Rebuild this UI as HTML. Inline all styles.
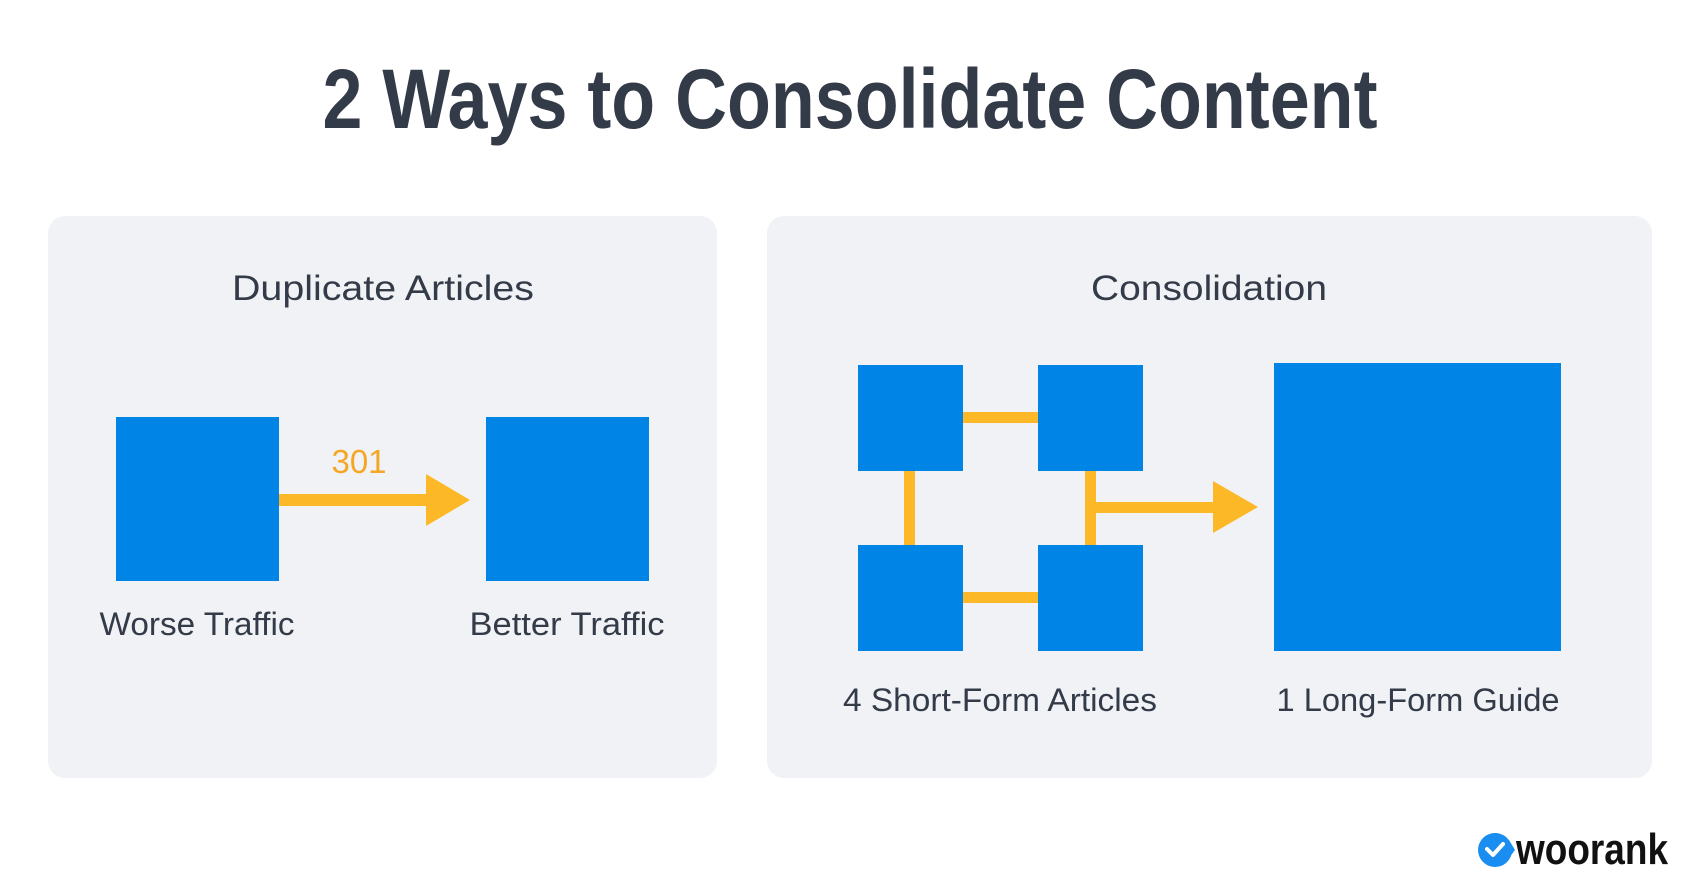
<!DOCTYPE html>
<html><head><meta charset="utf-8"><style>
html,body{margin:0;padding:0;background:#fff;width:1700px;height:896px;overflow:hidden}
svg{display:block}
text{font-family:"Liberation Sans",sans-serif}
</style></head><body>
<svg width="1700" height="896" viewBox="0 0 1700 896">
<rect width="1700" height="896" fill="#fff"/>
<text x="850" y="128" text-anchor="middle" font-size="84" font-weight="bold" fill="#343b48" textLength="1055" lengthAdjust="spacingAndGlyphs">2 Ways to Consolidate Content</text>
<rect x="48" y="216" width="669" height="562" rx="17" fill="#f0f2f6"/>
<rect x="767" y="216" width="885" height="562" rx="17" fill="#f0f2f6"/>
<text x="383" y="300" text-anchor="middle" font-size="35" fill="#343b48" textLength="302" lengthAdjust="spacingAndGlyphs">Duplicate Articles</text>
<text x="1209" y="300" text-anchor="middle" font-size="35" fill="#343b48" textLength="236" lengthAdjust="spacingAndGlyphs">Consolidation</text>
<!-- left diagram -->
<rect x="116" y="417" width="163" height="164" fill="#0085e6"/>
<rect x="486" y="417" width="163" height="164" fill="#0085e6"/>
<rect x="279" y="494" width="150" height="12" fill="#fdb827"/>
<polygon points="426,474 470,500 426,526" fill="#fdb827"/>
<text x="359" y="473" text-anchor="middle" font-size="33" fill="#f5a623">301</text>
<text x="197" y="635" text-anchor="middle" font-size="32" fill="#343b48" textLength="195" lengthAdjust="spacingAndGlyphs">Worse Traffic</text>
<text x="567" y="635" text-anchor="middle" font-size="32" fill="#343b48" textLength="195" lengthAdjust="spacingAndGlyphs">Better Traffic</text>
<!-- right diagram -->
<rect x="963" y="412" width="75" height="11" fill="#fdb827"/>
<rect x="963" y="592" width="75" height="11" fill="#fdb827"/>
<rect x="904" y="471" width="11" height="74" fill="#fdb827"/>
<rect x="1085" y="471" width="11" height="74" fill="#fdb827"/>
<rect x="1096" y="502" width="122" height="11" fill="#fdb827"/>
<polygon points="1213,481 1258,507 1213,533" fill="#fdb827"/>
<rect x="858" y="365" width="105" height="106" fill="#0085e6"/>
<rect x="1038" y="365" width="105" height="106" fill="#0085e6"/>
<rect x="858" y="545" width="105" height="106" fill="#0085e6"/>
<rect x="1038" y="545" width="105" height="106" fill="#0085e6"/>
<rect x="1274" y="363" width="287" height="288" fill="#0085e6"/>
<text x="1000" y="711" text-anchor="middle" font-size="32" fill="#343b48" textLength="314" lengthAdjust="spacingAndGlyphs">4 Short-Form Articles</text>
<text x="1418" y="711" text-anchor="middle" font-size="32" fill="#343b48" textLength="283" lengthAdjust="spacingAndGlyphs">1 Long-Form Guide</text>
<!-- logo -->
<path d="M1495,833 a17,17 0 1,0 0.1,0 Z" fill="#1a8df0"/>
<path d="M1509,840 L1515,850 L1509,858 Z" fill="#1a8df0"/>
<polyline points="1487,849 1493,855 1503,844" fill="none" stroke="#fff" stroke-width="4" stroke-linecap="round" stroke-linejoin="round"/>
<text x="1516" y="864" font-size="44" font-weight="bold" fill="#111" textLength="152" lengthAdjust="spacingAndGlyphs">woorank</text>
</svg>
</body></html>
